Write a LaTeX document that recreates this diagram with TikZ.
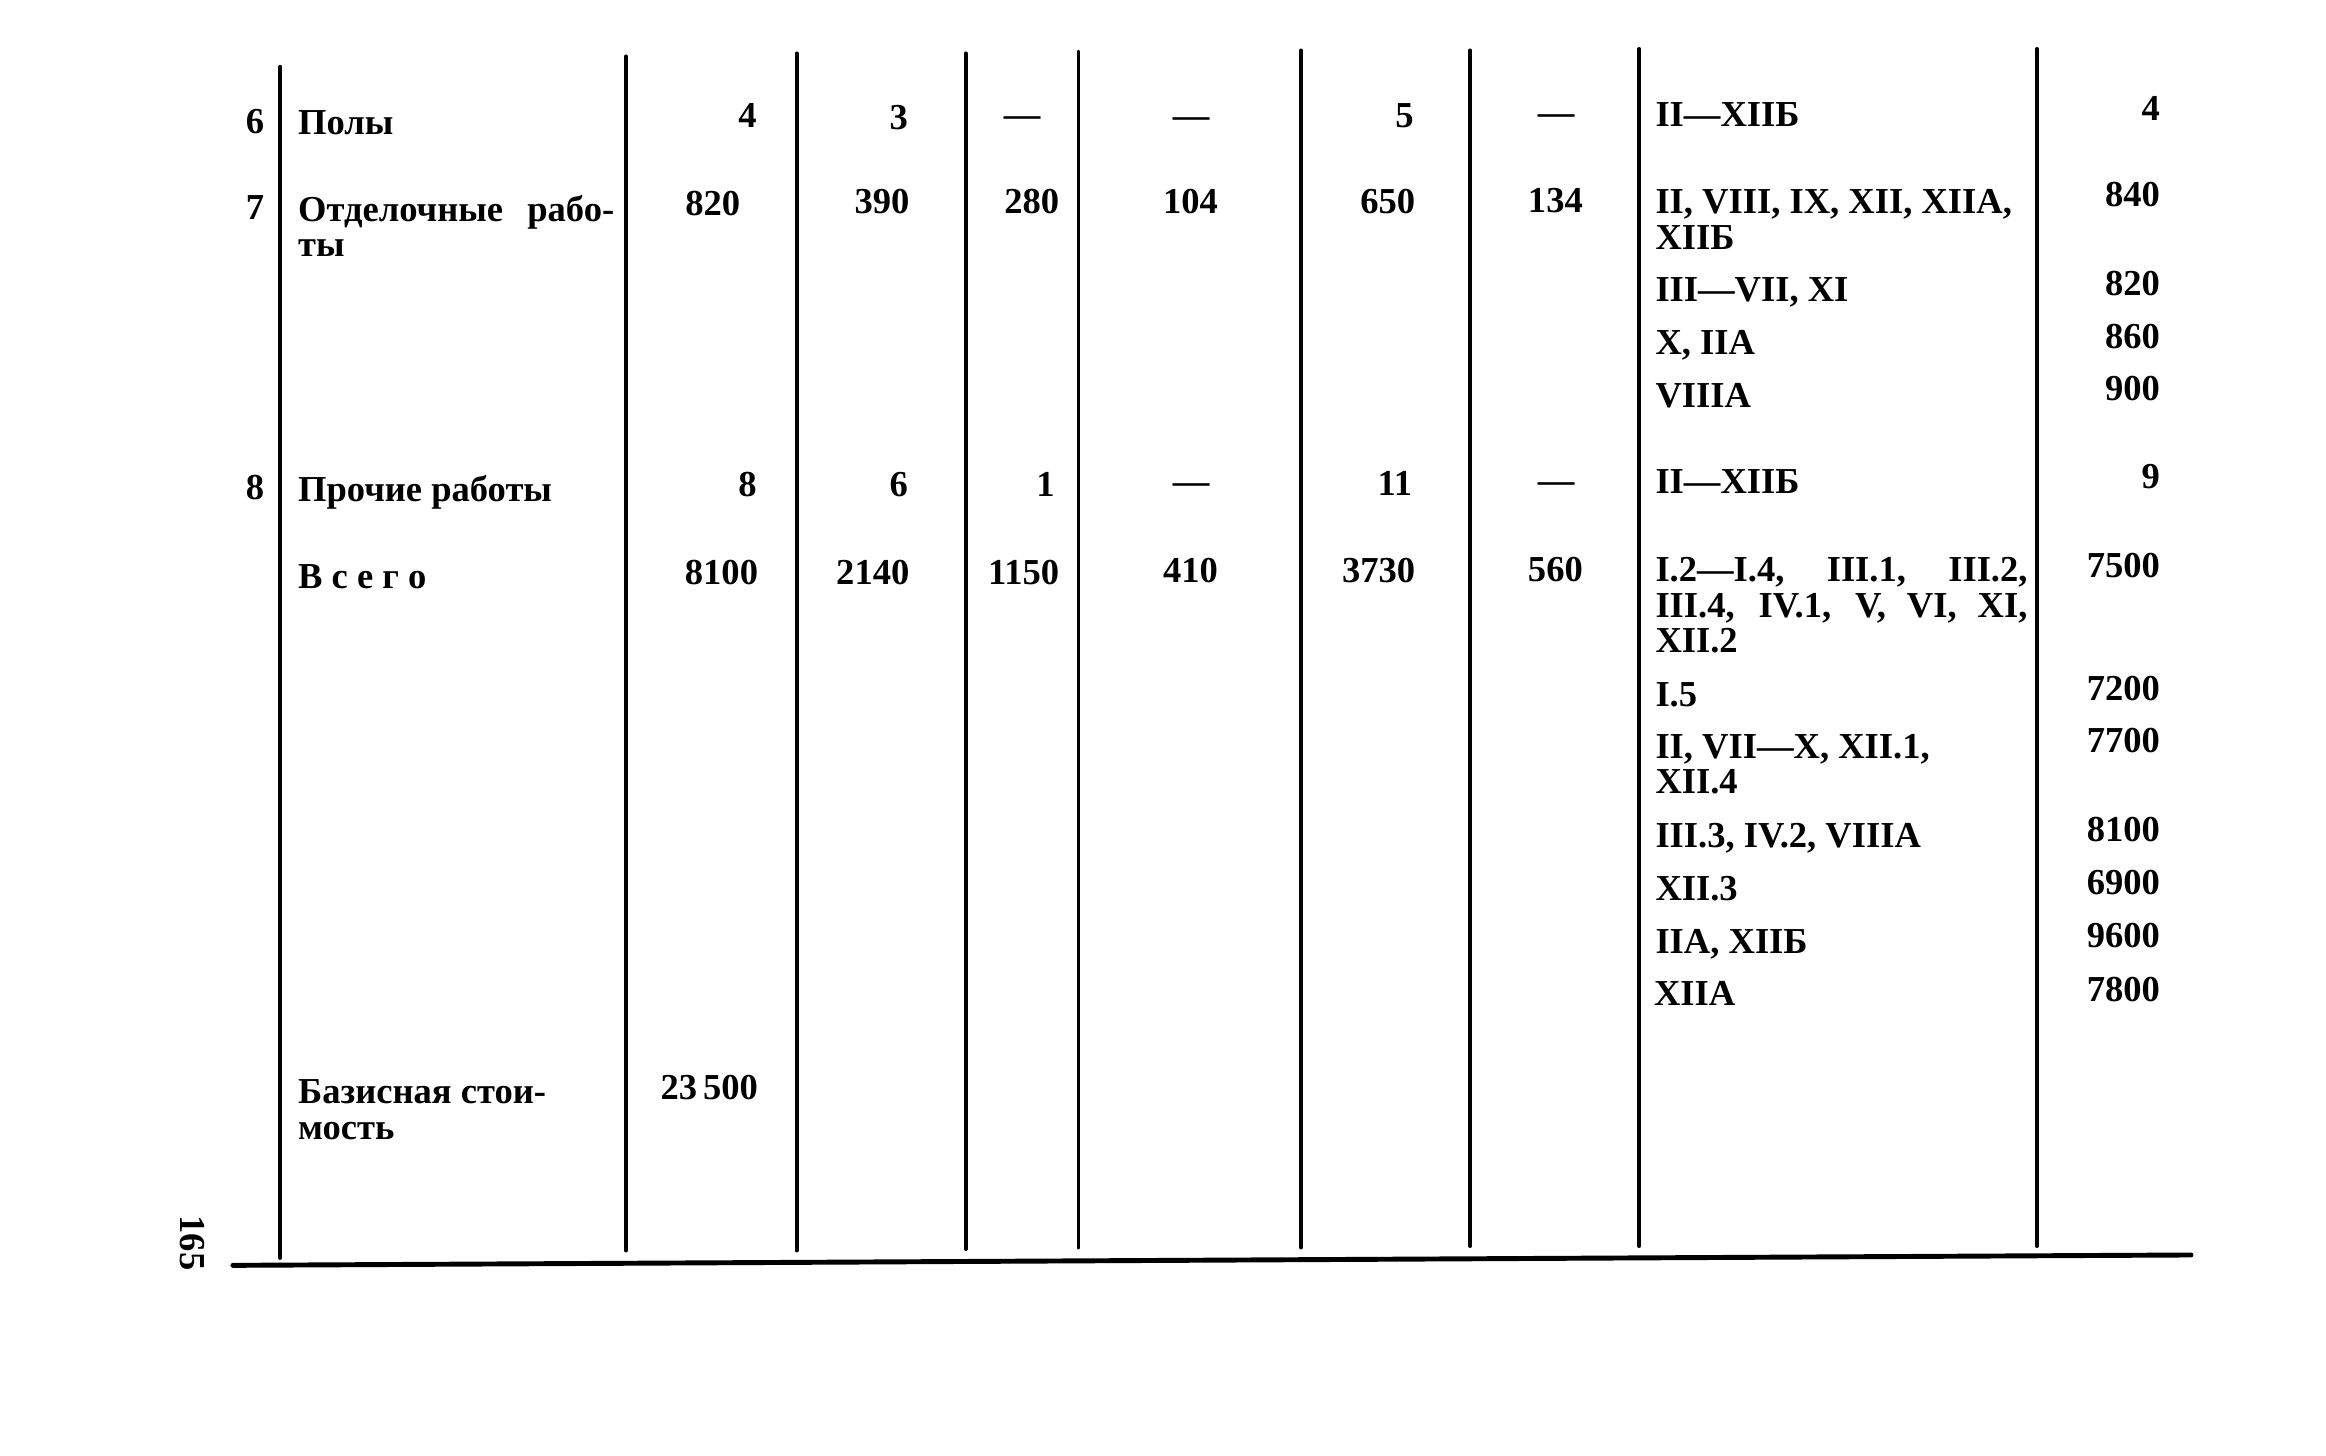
\documentclass[tikz,border=0pt]{standalone}
\usepackage{fontspec}
\setmainfont{Liberation Serif}
\begin{document}
\begin{tikzpicture}[x=0.014834cm,y=-0.014834cm,
  txt/.style={inner sep=0pt, outer sep=0pt, font=\bfseries\fontsize{10.4}{10.2}\selectfont},
  L/.style={txt,anchor=base west},
  R/.style={txt,anchor=base east},
  C/.style={txt,anchor=base},
  rule/.style={line width=1.1pt, line cap=round},
  hrule/.style={line width=1.4pt, line cap=round}]
\useasboundingbox[fill=white] (0,0) rectangle (1568,981);
% vertical rules
\foreach \i/\x/\t/\b in {1/189/45/848, 2/422/38/843, 3/537/36/843, 4/651/36/842,
  5/727/35/841, 6/877/34/841, 7/991/34/840, 8/1105/33/840, 9/1373/33/840}{
  \coordinate (v\i t) at (\x,\t);
  \coordinate (v\i b) at (\x,\b);
  \draw[rule] (v\i t) -- (v\i b);
}
% bottom rule
\coordinate (hl) at (157,853);
\coordinate (hr) at (1477,846);
\draw[hrule] (hl) -- (hr);
% page number
\node[txt, rotate=-90, anchor=center] (page) at (130,838) {165};
% row numbers
\node[R] (n6) at (178,90) {6};
\node[R] (n7) at (178,148) {7};
\node[R] (n8) at (178,337) {8};
% names
\node[L] (a6) at (201,91) {Полы};
\node[L] (a7) at (201,149) {\makebox[3.16cm][s]{Отделочные рабо-}};
\node[L] (a7b) at (201,173) {ты};
\node[L] (a8) at (201,338) {Прочие работы};
\node[L] (a9) at (201,397) {В с е г о};
\node[L] (a10a) at (201,744) {Базисная стои-};
\node[L] (a10b) at (201,768) {мость};
% column B
\node[R] (b6) at (510,86) {4};
\node[R] (b7) at (499,145) {820};
\node[R] (b8) at (510,335) {8};
\node[R] (b9) at (511,394) {8100};
\node[R] (b10) at (511,741) {23\,500};
% column C
\node[R] (c6) at (612,87) {3};
\node[R] (c7) at (613,144) {390};
\node[R] (c8) at (612,335) {6};
\node[R] (c9) at (613,394) {2140};
% column D
\node[C] (d6) at (689,85) {—};
\node[R] (d7) at (714,144) {280};
\node[R] (d8) at (711,335) {1};
\node[R] (d9) at (714,394) {1150};
% column E
\node[C] (e6) at (803,86) {—};
\node[R] (e7) at (821,144) {104};
\node[C] (e8) at (803,333) {—};
\node[R] (e9) at (821,393) {410};
% column F
\node[R] (f6) at (953,86) {5};
\node[R] (f7) at (954,144) {650};
\node[R] (f8) at (952,334) {11};
\node[R] (f9) at (954,393) {3730};
% column G
\node[C] (g6) at (1049,84) {—};
\node[R] (g7) at (1067,143) {134};
\node[C] (g8) at (1049,332) {—};
\node[R] (g9) at (1067,392) {560};
% column H
\node[L] (h1) at (1116,85) {II—XIIБ};
\node[L] (h2a) at (1116,144) {II, VIII, IX, XII, XIIА,};
\node[L] (h2b) at (1116,168) {XIIБ};
\node[L] (h3) at (1116,203) {III—VII, XI};
\node[L] (h4) at (1116,239) {X, IIА};
\node[L] (h5) at (1116,275) {VIIIА};
\node[L] (h6) at (1116,333) {II—XIIБ};
\node[L] (h7a) at (1116,392) {\makebox[3.72cm][s]{I.2—I.4, III.1, III.2,}};
\node[L] (h7b) at (1116,416) {\makebox[3.72cm][s]{III.4, IV.1, V, VI, XI,}};
\node[L] (h7c) at (1116,440) {XII.2};
\node[L] (h8) at (1116,476) {I.5};
\node[L] (h9a) at (1116,511) {II, VII—X, XII.1,};
\node[L] (h9b) at (1116,535) {XII.4};
\node[L] (h10) at (1116,571) {III.3, IV.2, VIIIА};
\node[L] (h11) at (1116,607) {XII.3};
\node[L] (h12) at (1116,643) {IIА, XIIБ};
\node[L] (h13) at (1115,678) {XIIА};
% column I
\node[R] (i1) at (1456,81) {4};
\node[R] (i2) at (1456,139) {840};
\node[R] (i3) at (1456,199) {820};
\node[R] (i4) at (1456,235) {860};
\node[R] (i5) at (1456,270) {900};
\node[R] (i6) at (1456,329) {9};
\node[R] (i7) at (1456,389) {7500};
\node[R] (i8) at (1456,472) {7200};
\node[R] (i9) at (1456,507) {7700};
\node[R] (i10) at (1456,567) {8100};
\node[R] (i11) at (1456,603) {6900};
\node[R] (i12) at (1456,639) {9600};
\node[R] (i13) at (1456,675) {7800};
\end{tikzpicture}
\end{document}
